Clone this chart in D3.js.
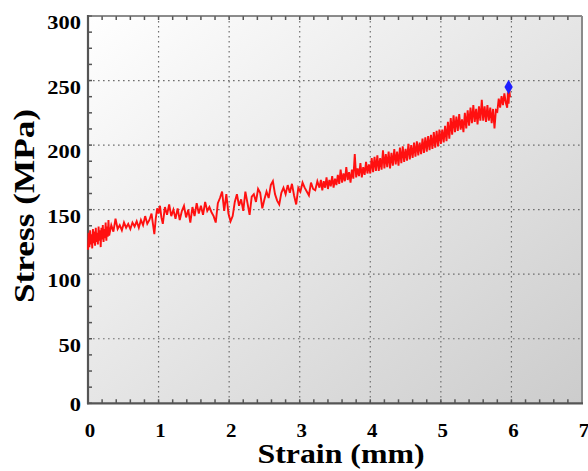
<!DOCTYPE html>
<html><head><meta charset="utf-8">
<script src="https://cdn.jsdelivr.net/npm/d3@7"></script>
<style>body{margin:0;background:#fff}svg{display:block}</style>
</head><body>
<svg id="c" width="588" height="471"></svg>
<script>
const strain = [
0.00,0.01,0.02,0.03,0.04,0.05,0.06,0.07,0.08,0.09,0.10,0.11,0.12,0.13,0.14,0.15,0.16,0.17,0.18,0.19,0.20,0.21,0.22,0.23,0.24,0.25,0.26,0.27,0.28,0.29,0.30,
0.33,0.36,0.39,0.42,0.45,0.48,0.51,0.54,0.57,0.60,0.63,0.66,0.69,0.72,0.75,0.78,0.81,0.84,0.87,0.90,0.92,0.94,0.96,0.98,1.00,1.02,1.04,
1.06,1.09,1.12,1.15,1.18,1.21,1.24,1.27,1.30,1.33,1.36,1.39,1.42,1.45,1.48,1.51,1.54,1.57,1.60,
1.63,1.66,1.69,1.72,1.75,1.78,1.81,1.84,1.87,1.90,1.93,1.96,1.99,2.02,2.05,2.08,2.11,2.14,2.17,2.20,2.23,2.26,2.29,2.32,2.35,2.38,2.41,2.44,2.47,2.50,2.53,2.56,2.59,2.62,2.65,2.68,2.71,2.74,2.77,2.80,2.83,2.86,2.89,2.92,2.95,2.98,3.01,3.04,3.07,3.10,3.13,3.16,3.19,3.22,3.25,3.28,
3.30,3.32,3.34,3.36,3.38,3.40,3.42,3.44,3.46,3.48,3.50,3.52,3.54,3.56,3.58,3.60,3.62,3.64,3.66,3.68,3.70,3.72,3.74,3.76,3.78,3.80,3.82,3.84,3.86,3.88,3.90,3.92,3.94,3.96,3.98,
4.00,4.02,4.04,4.06,4.08,4.10,4.12,4.14,4.16,4.18,4.20,4.22,4.24,4.26,4.28,4.30,4.32,4.34,4.36,4.38,4.40,4.42,4.44,4.46,4.48,4.50,4.52,4.54,4.56,4.58,4.60,4.62,4.64,4.66,4.68,4.70,4.72,4.74,4.76,4.78,4.80,4.82,4.84,4.86,4.88,4.90,4.92,4.94,4.96,4.98,5.00,
5.02,5.04,5.06,5.08,5.10,5.12,5.14,5.16,5.18,5.20,5.22,5.24,5.26,5.28,5.30,5.32,5.34,5.36,5.38,5.40,5.42,5.44,5.46,5.48,5.50,5.52,5.54,5.56,5.58,5.60,5.62,5.64,5.66,5.68,5.70,5.72,5.74,5.76,5.78,5.80,5.82,5.84,5.86,5.88,5.90,5.92,5.94,5.95,5.96,5.97,5.98
];
const stress = [
119,132,121,134,123,131,120,135,124,133,122,136,125,132,123,137,126,134,121,136,127,138,125,135,128,140,126,137,129,142,130,
138,133,143,135,138,134,140,136,139,135,140,137,141,136,142,138,145,139,142,147,139,131,143,151,147,153,144,
139,152,146,154,145,150,143,151,142,149,153,144,150,140,152,145,155,147,153,
146,156,149,152,148,145,140,155,159,164,149,162,147,141,145,156,162,153,158,149,164,155,146,160,162,156,166,163,151,158,164,159,169,172,162,157,154,163,167,162,169,163,170,161,154,167,164,171,167,164,161,171,166,165,172,167,
173,165,172,167,175,166,173,168,176,167,174,169,177,170,181,171,178,172,183,173,179,171,181,174,193,175,182,176,186,175,183,177,187,178,185,
178,190,179,191,180,192,180,190,181,196,182,193,183,195,182,194,184,197,185,195,184,198,186,199,187,197,188,201,189,200,190,202,191,203,192,202,193,205,194,206,195,207,196,208,197,210,198,211,199,212,201,
212,202,215,203,218,205,221,208,223,210,222,211,224,212,220,210,225,213,227,215,229,217,231,218,228,216,230,219,235,219,230,218,231,219,229,217,228,213,227,226,236,229,238,231,240,233,229,241,232,243,237
];
const failurePoint = [5.96, 245];
const xTicks = [0,1,2,3,4,5,6,7];
const yTicks = [0,50,100,150,200,250,300];
const xLabel = "Strain (mm)";
const yLabel = "Stress (MPa)";

const svg = d3.select("#c");
const L=88, R=582, T=16, B=403.3;
const x = d3.scaleLinear().domain([0,7]).range([L,R]);
const y = d3.scaleLinear().domain([0,300]).range([B,T]);

const defs = svg.append("defs");
const g = defs.append("linearGradient").attr("id","bg").attr("x1","0").attr("y1","0").attr("x2","1").attr("y2","1");
g.append("stop").attr("offset","0").attr("stop-color","#ffffff");
g.append("stop").attr("offset","1").attr("stop-color","#cccccc");
svg.append("rect").attr("x",L).attr("y",T).attr("width",R-L).attr("height",B-T).attr("fill","url(#bg)");

// grid
const grid = svg.append("g").attr("stroke","#6f6f6f").attr("stroke-width",1.2).attr("stroke-dasharray","1.6,3.4");
grid.selectAll(".gx").data(xTicks.filter(d=>d>0&&d<7)).join("line")
  .attr("x1",d=>x(d)).attr("x2",d=>x(d)).attr("y1",T).attr("y2",B);
grid.selectAll(".gy").data(yTicks.filter(d=>d>0&&d<300)).join("line")
  .attr("x1",L).attr("x2",R).attr("y1",d=>y(d)).attr("y2",d=>y(d));

// minor/major ticks (inward)
const xMinor = d3.range(0,7.0001,0.2);
const yMinor = d3.range(0,300.001,12.5);
const tk = svg.append("g").attr("stroke","#555").attr("stroke-width",1.5);
tk.selectAll(".bx").data(xMinor).join("line").attr("x1",d=>x(d)).attr("x2",d=>x(d)).attr("y1",B).attr("y2",B-4);
tk.selectAll(".tx").data(xMinor).join("line").attr("x1",d=>x(d)).attr("x2",d=>x(d)).attr("y1",T).attr("y2",T+4);
tk.selectAll(".ly").data(yMinor).join("line").attr("x1",L).attr("x2",L+4).attr("y1",d=>y(d)).attr("y2",d=>y(d));

// frame
svg.append("line").attr("x1",L).attr("x2",R).attr("y1",T).attr("y2",T).attr("stroke","#666").attr("stroke-width",1.5);
svg.append("line").attr("x1",R).attr("x2",R).attr("y1",T).attr("y2",B).attr("stroke","#8a8a8a").attr("stroke-width",2);
svg.append("line").attr("x1",L).attr("x2",L).attr("y1",T-1).attr("y2",B+1).attr("stroke","#555").attr("stroke-width",2.2);
svg.append("line").attr("x1",L-1).attr("x2",R+1).attr("y1",B).attr("y2",B).attr("stroke","#555").attr("stroke-width",2.2);

// data line
const pts = strain.map((s,i)=>[s,stress[i]]);
svg.append("path").datum(pts)
  .attr("d", d3.line().x(d=>x(d[0])).y(d=>y(d[1])))
  .attr("fill","none").attr("stroke","#ff1010").attr("stroke-width",1.9).attr("stroke-linejoin","miter");

svg.append("path").attr("d", d3.symbol().type(d3.symbolDiamond).size(60)())
  .attr("transform",`translate(${x(failurePoint[0])},${y(failurePoint[1])})`)
  .attr("fill","#1f1fff");

// labels
const font = "'Liberation Serif','Times New Roman',serif";
function stretch(sel, k){ sel.each(function(){ const w=this.getComputedTextLength(); d3.select(this).attr("textLength",w*k).attr("lengthAdjust","spacingAndGlyphs"); }); }
const yl = svg.append("g").selectAll("text").data(yTicks).join("text")
  .attr("x",81).attr("y",d=>y(d)+(d===0?8:13))
  .attr("text-anchor","end").attr("font-family",font).attr("font-weight","bold").attr("font-size",19).attr("fill","#000")
  .text(d=>d);
stretch(yl,1.18);
const xl = svg.append("g").selectAll("text").data(xTicks).join("text")
  .attr("x",d=>x(d)+2).attr("y",437)
  .attr("text-anchor","middle").attr("font-family",font).attr("font-weight","bold").attr("font-size",19).attr("fill","#000")
  .text(d=>d);
stretch(xl,1.1);

svg.append("text").attr("x",341).attr("y",463).attr("text-anchor","middle")
  .attr("font-family",font).attr("font-weight","bold").attr("font-size",27).attr("fill","#000")
  .attr("textLength",167).attr("lengthAdjust","spacingAndGlyphs").text(xLabel);
svg.append("text").attr("transform","translate(34,206) rotate(-90)").attr("text-anchor","middle")
  .attr("font-family",font).attr("font-weight","bold").attr("font-size",29).attr("fill","#000")
  .attr("textLength",194).attr("lengthAdjust","spacingAndGlyphs").text(yLabel);
</script>
</body></html>
